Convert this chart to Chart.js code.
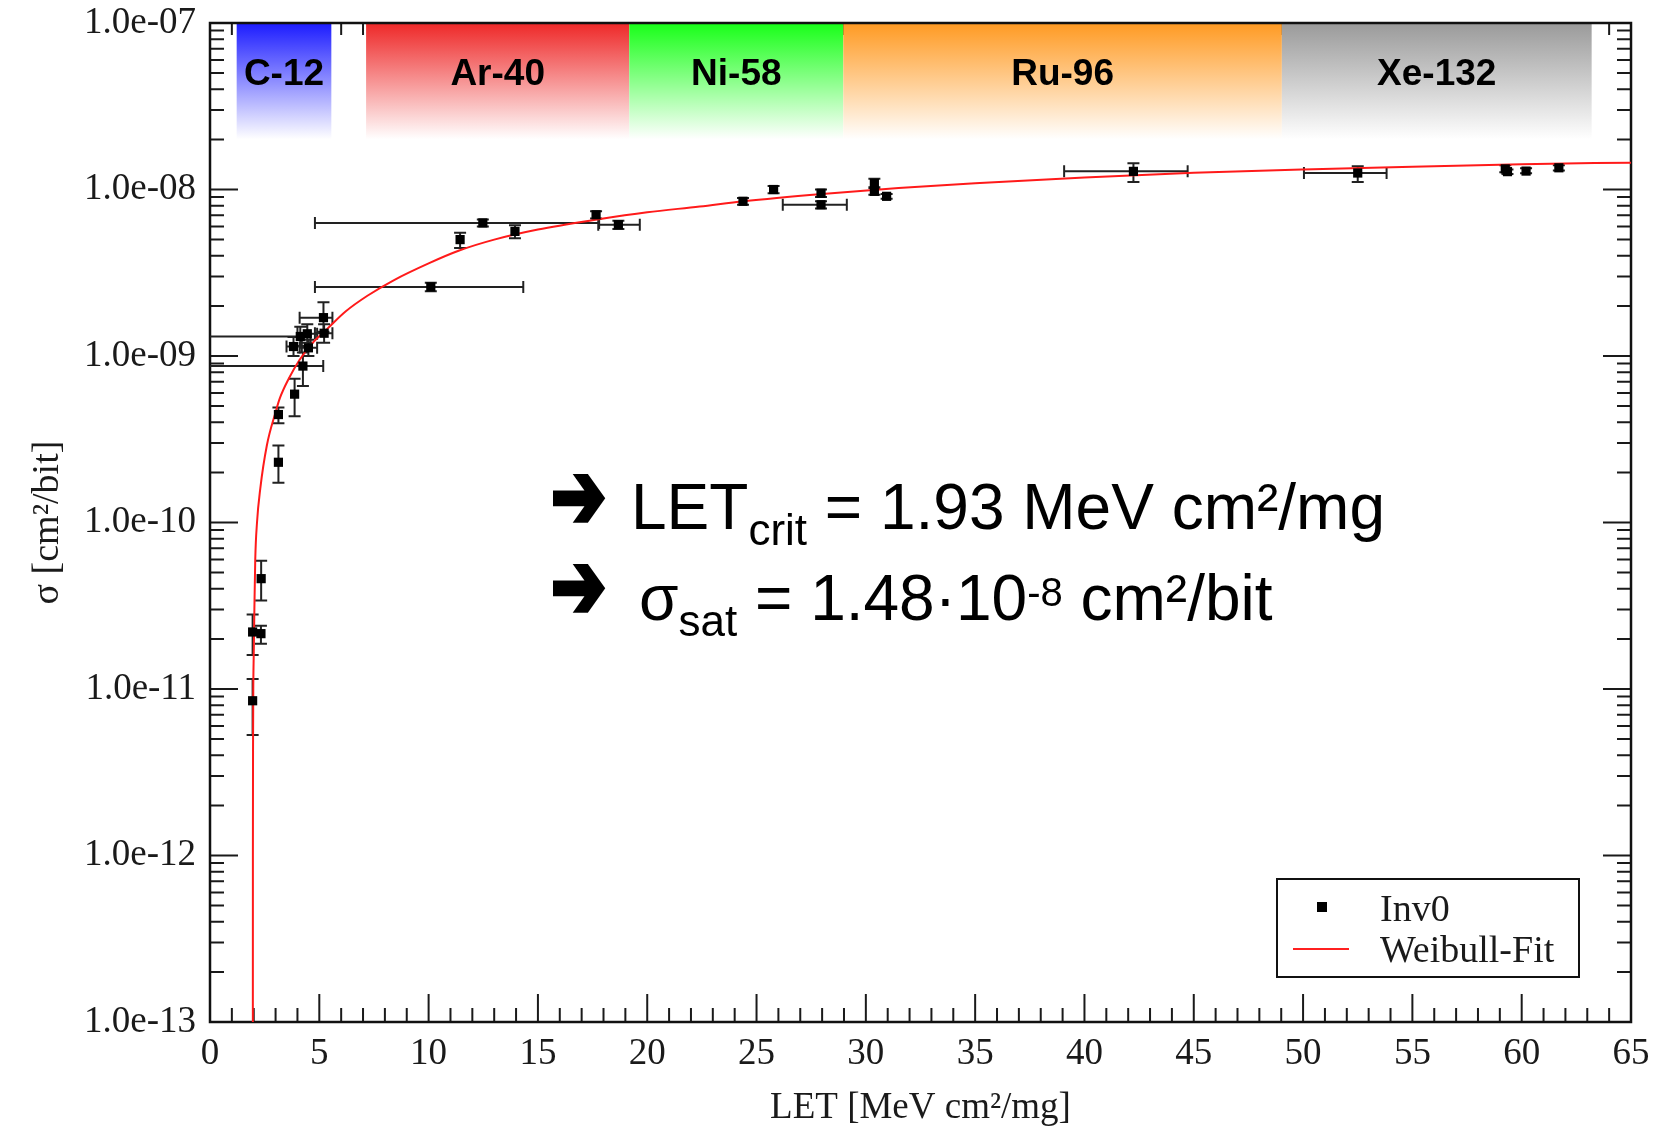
<!DOCTYPE html>
<html>
<head>
<meta charset="utf-8">
<script src="https://cdn.jsdelivr.net/npm/chart.js@4.4.1/dist/chart.umd.min.js"></script>
<style>
html, body { margin: 0; padding: 0; background: #fff; }
#grafico { display: block; }
</style>
</head>
<body>
<canvas id="grafico" width="1661" height="1129"></canvas>
<script>
// measured cross sections (Inv0)
var ptLET    = [1.95, 1.95, 2.33, 2.34, 3.13, 3.13, 3.87, 4.25, 3.82, 4.13, 4.50, 4.45, 5.19, 5.22, 10.1, 11.44, 12.48, 13.95, 17.66, 18.68, 24.38, 25.78, 27.95, 27.95, 30.39, 30.39, 30.95, 42.24, 52.5, 59.25, 59.35, 60.2, 61.7];
var ptSigma  = [8.5e-12, 2.2e-11, 2.15e-11, 4.6e-11, 2.3e-10, 4.45e-10, 5.9e-10, 8.7e-10, 1.14e-9, 1.31e-9, 1.12e-9, 1.36e-9, 1.7e-9, 1.37e-9, 2.6e-9, 5.0e-9, 6.3e-9, 5.6e-9, 7.05e-9, 6.15e-9, 8.5e-9, 1.0e-8, 9.5e-9, 8.1e-9, 1.09e-8, 9.75e-9, 9.1e-9, 1.285e-8, 1.256e-8, 1.33e-8, 1.28e-8, 1.29e-8, 1.35e-8];
var errXLow  = [null, null, null, null, null, null, null, -2, 3.5, -2, 4.1, 4.0, 4.1, 4.8, 4.8, null, 4.8, null, null, 17.76, null, null, null, 26.2, null, null, null, 39.07, 50.04, null, null, null, null];
var errXHigh = [null, null, null, null, null, null, null, 5.18, 4.2, 4.6, 4.9, 4.9, 5.6, 5.6, 14.33, null, 17.8, null, null, 19.66, null, null, null, 29.13, null, null, null, 44.72, 53.82, null, null, null, null];
var errYLow  = [5.3e-12, 1.6e-11, 1.87e-11, 3.4e-11, 1.73e-10, 3.95e-10, 4.35e-10, 6.6e-10, 1.0e-9, 1.15e-9, 1.0e-9, 1.2e-9, 1.4e-9, 1.2e-9, 2.45e-9, 4.45e-9, 6.0e-9, 5.1e-9, 6.7e-9, 5.8e-9, 8.1e-9, 9.5e-9, 9.0e-9, 7.7e-9, 1.03e-8, 9.3e-9, 8.8e-9, 1.11e-8, 1.11e-8, 1.27e-8, 1.24e-8, 1.25e-8, 1.30e-8];
var errYHigh = [1.15e-11, 2.8e-11, 2.4e-11, 5.9e-11, 2.9e-10, 4.9e-10, 7.3e-10, 1.05e-9, 1.3e-9, 1.5e-9, 1.25e-9, 1.55e-9, 2.1e-9, 1.55e-9, 2.75e-9, 5.5e-9, 6.6e-9, 6.1e-9, 7.4e-9, 6.5e-9, 8.9e-9, 1.05e-8, 1.0e-8, 8.5e-9, 1.16e-8, 1.02e-8, 9.4e-9, 1.44e-8, 1.38e-8, 1.40e-8, 1.32e-8, 1.34e-8, 1.40e-8];

// Weibull fit
var fitLET   = [1.96, 1.962, 1.97, 1.98, 2.0, 2.03, 2.07, 2.15, 2.3, 2.6, 3.0, 3.2, 3.6, 4.1, 4.7, 5.35, 6.2, 7.2, 8.4, 10, 11.4, 13, 15, 17.7, 20, 22.4, 24.4, 28, 31.5, 35, 40, 45, 50, 55, 60, 65];
var fitSigma = [1e-13, 1e-12, 5e-12, 1.0e-11, 1.6e-11, 3.0e-11, 6.0e-11, 1.0e-10, 1.6e-10, 2.9e-10, 4.6e-10, 5.6e-10, 7.3e-10, 9.5e-10, 1.2e-9, 1.45e-9, 1.85e-9, 2.3e-9, 2.85e-9, 3.6e-9, 4.3e-9, 5.0e-9, 5.75e-9, 6.6e-9, 7.3e-9, 7.9e-9, 8.5e-9, 9.4e-9, 1.02e-8, 1.09e-8, 1.18e-8, 1.26e-8, 1.32e-8, 1.37e-8, 1.42e-8, 1.45e-8];

// ion LET ranges (coloured bands at the top)
var ionNames   = ['C-12', 'Ar-40', 'Ni-58', 'Ru-96', 'Xe-132'];
var ionLETFrom = [1.22, 7.14, 19.18, 28.97, 49.03];
var ionLETTo   = [5.55, 19.18, 28.97, 49.03, 63.2];
var ionColors  = ['#1c1cff', '#ee2828', '#18ff18', '#ff9a22', '#9a9a9a'];

var yTickValues = [1e-13, 1e-12, 1e-11, 1e-10, 1e-9, 1e-8, 1e-7];
var yTickLabels = ['1.0e-13', '1.0e-12', '1.0e-11', '1.0e-10', '1.0e-09', '1.0e-08', '1.0e-07'];

var serif = 'Liberation Serif, Times New Roman, serif';
var sans = 'Liberation Sans, Arial, sans-serif';

var points = [];
for (var i = 0; i < ptLET.length; i++) points.push({x: ptLET[i], y: ptSigma[i]});
var fit = [];
for (var j = 0; j < fitLET.length; j++) fit.push({x: fitLET[j], y: fitSigma[j]});

// axes frame, inward ticks, ion bands, error bars
var framePlugin = {
    id: 'frame',
    beforeDatasetsDraw: function (chart) {
        var ctx = chart.ctx, a = chart.chartArea;
        var xs = chart.scales.x, ys = chart.scales.y;
        ctx.save();
        ctx.strokeStyle = '#1a1a1a';
        ctx.lineWidth = 2;
        ctx.beginPath();
        for (var v = 0; v <= 65; v++) {
            var px = xs.getPixelForValue(v);
            var len = (v % 5 === 0) ? 28 : 14;
            ctx.moveTo(px, a.bottom); ctx.lineTo(px, a.bottom - len);
            ctx.moveTo(px, a.top); ctx.lineTo(px, a.top + (v % 5 === 0 ? 28 : 12));
        }
        for (var n = -13; n <= -7; n++) {
            var py = ys.getPixelForValue(Math.pow(10, n));
            ctx.moveTo(a.left, py); ctx.lineTo(a.left + 28, py);
            ctx.moveTo(a.right, py); ctx.lineTo(a.right - 28, py);
            if (n === -7) break;
            for (var k = 2; k <= 9; k++) {
                var pm = ys.getPixelForValue(k * Math.pow(10, n));
                ctx.moveTo(a.left, pm); ctx.lineTo(a.left + 14, pm);
                ctx.moveTo(a.right, pm); ctx.lineTo(a.right - 14, pm);
            }
        }
        ctx.stroke();

        // ion bands
        var yFade = ys.getPixelForValue(2e-8);
        for (var b = 0; b < ionNames.length; b++) {
            var x0 = xs.getPixelForValue(ionLETFrom[b]);
            var x1 = xs.getPixelForValue(ionLETTo[b]);
            var g = ctx.createLinearGradient(0, a.top, 0, yFade);
            g.addColorStop(0, ionColors[b]);
            g.addColorStop(1, '#ffffff');
            ctx.fillStyle = g;
            ctx.fillRect(x0, a.top, x1 - x0, yFade - a.top);
            ctx.fillStyle = '#000';
            ctx.font = 'bold 37px ' + sans;
            ctx.textAlign = 'center';
            ctx.textBaseline = 'alphabetic';
            ctx.fillText(ionNames[b], (x0 + x1) / 2, a.top + 62);
        }

        ctx.lineWidth = 2.5;
        ctx.strokeStyle = '#111';
        ctx.strokeRect(a.left, a.top, a.right - a.left, a.bottom - a.top);

        // error bars
        ctx.beginPath();
        ctx.rect(a.left, a.top, a.right - a.left, a.bottom - a.top);
        ctx.clip();
        ctx.strokeStyle = '#222';
        ctx.lineWidth = 2;
        ctx.beginPath();
        for (var i = 0; i < ptLET.length; i++) {
            var cx = xs.getPixelForValue(ptLET[i]);
            var cy = ys.getPixelForValue(ptSigma[i]);
            if (errYLow[i] !== null) {
                var y0 = ys.getPixelForValue(errYLow[i]), y1 = ys.getPixelForValue(errYHigh[i]);
                ctx.moveTo(cx, y0); ctx.lineTo(cx, y1);
                ctx.moveTo(cx - 6, y0); ctx.lineTo(cx + 6, y0);
                ctx.moveTo(cx - 6, y1); ctx.lineTo(cx + 6, y1);
            }
            if (errXLow[i] !== null) {
                var xa = xs.getPixelForValue(errXLow[i]), xb = xs.getPixelForValue(errXHigh[i]);
                ctx.moveTo(xa, cy); ctx.lineTo(xb, cy);
                ctx.moveTo(xa, cy - 6); ctx.lineTo(xa, cy + 6);
                ctx.moveTo(xb, cy - 6); ctx.lineTo(xb, cy + 6);
            }
        }
        ctx.stroke();
        ctx.restore();
    },
    afterDraw: function (chart) {
        var ctx = chart.ctx, a = chart.chartArea;
        ctx.save();

        // legend
        var lx = a.right - 354, ly = a.bottom - 143;
        ctx.fillStyle = '#fff';
        ctx.fillRect(lx, ly, 302, 98);
        ctx.strokeStyle = '#111';
        ctx.lineWidth = 2;
        ctx.strokeRect(lx, ly, 302, 98);
        ctx.fillStyle = '#000';
        ctx.fillRect(lx + 40, ly + 23, 10, 10);
        ctx.strokeStyle = '#ff2020';
        ctx.beginPath();
        ctx.moveTo(lx + 16, ly + 70); ctx.lineTo(lx + 72, ly + 70);
        ctx.stroke();
        ctx.fillStyle = '#1a1a1a';
        ctx.font = '38px ' + serif;
        ctx.textAlign = 'left';
        ctx.textBaseline = 'alphabetic';
        ctx.fillText(chart.data.datasets[0].label, lx + 103, ly + 42);
        ctx.fillText(chart.data.datasets[1].label, lx + 103, ly + 83);

        // result text
        function run(parts, x, y) {
            for (var p = 0; p < parts.length; p++) {
                ctx.font = parts[p][1] + 'px ' + sans;
                ctx.fillText(parts[p][0], x, y + parts[p][2]);
                x += ctx.measureText(parts[p][0]).width;
            }
        }
        function arrow(x, yMid) {
            ctx.font = '60px DejaVu Sans';
            var w = ctx.measureText('\u2794').width;
            var s = 60 * 55 / w;
            ctx.save();
            ctx.translate(x, yMid);
            ctx.scale(1, 1.4);
            ctx.font = s + 'px DejaVu Sans';
            ctx.textBaseline = 'middle';
            ctx.lineWidth = 3.5;
            ctx.lineJoin = 'miter';
            ctx.strokeStyle = '#000';
            ctx.fillText('\u2794', 0, 0);
            ctx.strokeText('\u2794', 0, 0);
            ctx.restore();
        }
        ctx.fillStyle = '#000';
        arrow(551, 503);
        run([['LET', 64, 0], ['crit', 44, 16], [' = 1.93 MeV cm\u00b2/mg', 64, 0]], 631, 529);
        arrow(551, 593);
        run([['\u03c3', 64, 0], ['sat', 44, 16], [' = 1.48\u00b710', 64, 0], ['-8', 40, -14], [' cm\u00b2/bit', 64, 0]], 639, 620);
        ctx.restore();
    }
};

var grafico = document.getElementById('grafico').getContext('2d');
var chart = new Chart(grafico, {
    type: 'scatter',
    data: {
        datasets: [
            {
                label: 'Inv0',
                data: points,
                pointStyle: 'rect',
                pointRadius: 6.5,
                backgroundColor: '#000',
                borderColor: '#000',
                borderWidth: 0
            },
            {
                label: 'Weibull-Fit',
                data: fit,
                showLine: true,
                pointRadius: 0,
                borderColor: '#ff1a1a',
                borderWidth: 2,
                cubicInterpolationMode: 'monotone',
                fill: false
            }
        ]
    },
    options: {
        responsive: false,
        animation: false,
        devicePixelRatio: 1,
        layout: { padding: { top: 23, right: 30, bottom: 0, left: 0 } },
        plugins: { legend: { display: false }, tooltip: { enabled: false } },
        scales: {
            x: {
                type: 'linear', position: 'bottom', min: 0, max: 65,
                grid: { display: false, drawTicks: false },
                border: { display: false },
                ticks: { stepSize: 5, autoSkip: false, maxRotation: 0, padding: 10, color: '#1a1a1a',
                         font: { family: serif, size: 37 } },
                title: { display: true, text: 'LET [MeV cm\u00b2/mg]', color: '#1a1a1a',
                         font: { family: serif, size: 37, lineHeight: 1 }, padding: { top: 0, bottom: 2 } },
                afterFit: function (s) { s.height = 107; s.paddingLeft = 0; s.paddingRight = 0; }
            },
            y: {
                type: 'logarithmic', position: 'left', min: 1e-13, max: 1e-7,
                grid: { display: false, drawTicks: false },
                border: { display: false },
                afterBuildTicks: function (s) {
                    s.ticks = yTickValues.map(function (v) { return { value: v }; });
                },
                ticks: { autoSkip: false, padding: 14, color: '#1a1a1a',
                         font: { family: serif, size: 37 },
                         callback: function (v, idx) { return yTickLabels[idx]; } },
                title: { display: true, text: '\u03c3 [cm\u00b2/bit]', color: '#1a1a1a',
                         font: { family: serif, size: 38, lineHeight: 1 }, padding: { top: 29, bottom: 0 } },
                afterFit: function (s) { s.width = 210; s.paddingTop = 0; s.paddingBottom = 0; }
            }
        }
    },
    plugins: [framePlugin]
});
</script>
</body>
</html>
